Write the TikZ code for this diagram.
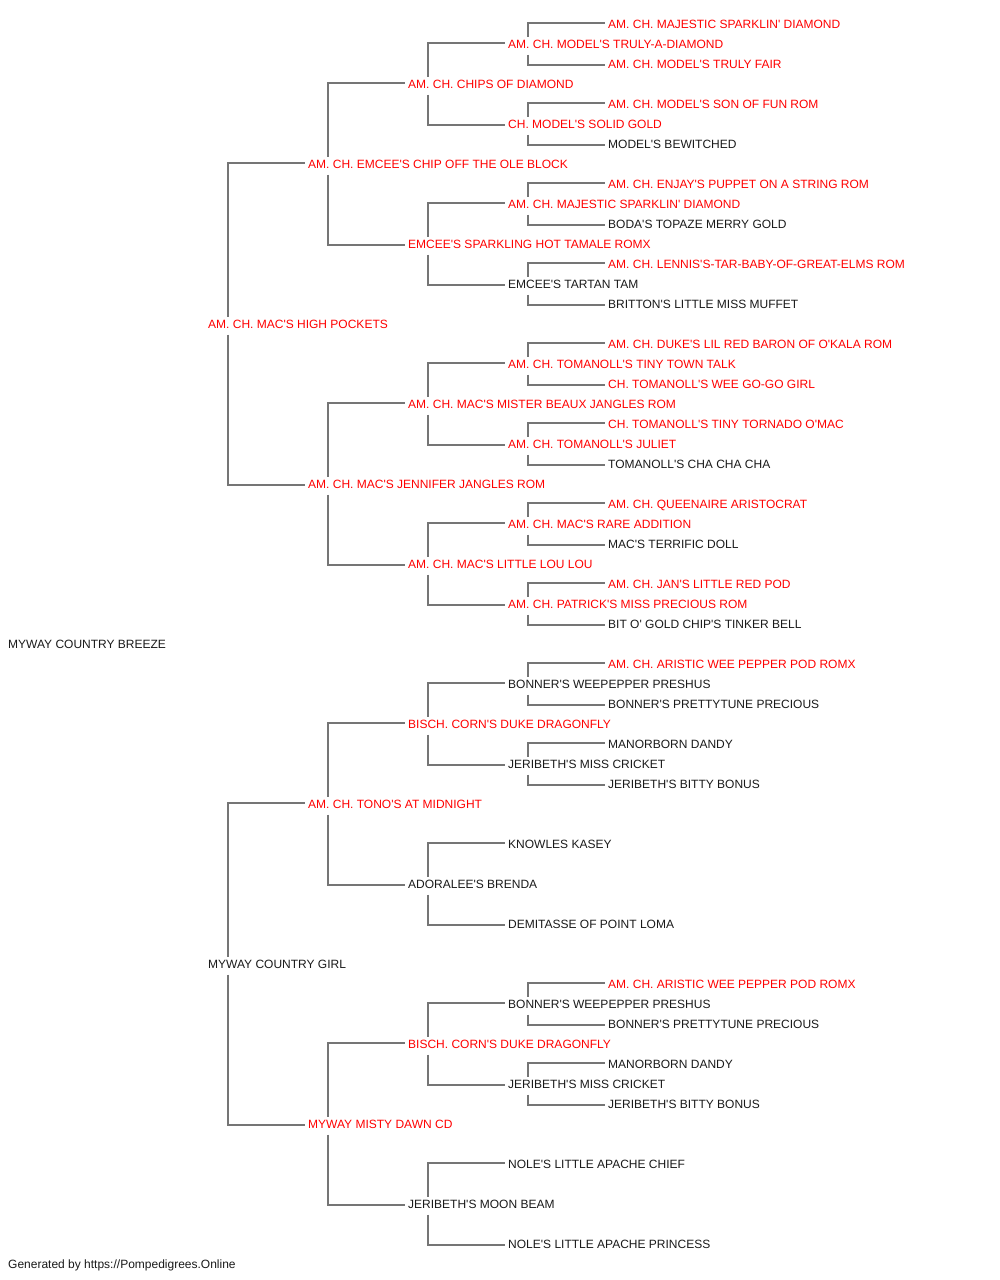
\documentclass[tikz,border=0pt]{standalone}
\usepackage{fontspec}
\setmainfont{Liberation Sans}[Ligatures=TeXOff]
\definecolor{lncol}{HTML}{757575}
\definecolor{chred}{HTML}{FF0000}
\definecolor{txtblk}{HTML}{1A1A1A}
\newcommand\pedlink[3]{%
  \draw[ln] ([xshift=20pt,yshift=7.5pt]#1.west) |- ([xshift=-3pt,yshift=1.5pt]#2.west);
  \draw[ln] ([xshift=20pt,yshift=-10.5pt]#1.west) |- ([xshift=-3pt,yshift=-0.5pt]#3.west);}
\begin{document}
\begin{tikzpicture}[x=1pt,y=-1pt,
  nm/.style={anchor=west,inner sep=0pt,text height=8.6pt,text depth=0pt,font=\fontsize{12}{14}\selectfont},
  ch/.style={nm,text=chred},
  pl/.style={nm,text=txtblk},
  ln/.style={draw=lncol,line width=2pt}]
\useasboundingbox[fill=white] (0,0) rectangle (1000,1280);
% generation 0
\node[pl] (r) at (8,644) {MYWAY COUNTRY BREEZE};
% generation 1
\node[ch] (s) at (208,324) {AM. CH. MAC'S HIGH POCKETS};
\node[pl] (d) at (208,964) {MYWAY COUNTRY GIRL};
% generation 2
\node[ch] (ss) at (308,164) {AM. CH. EMCEE'S CHIP OFF THE OLE BLOCK};
\node[ch] (sd) at (308,484) {AM. CH. MAC'S JENNIFER JANGLES ROM};
\node[ch] (ds) at (308,804) {AM. CH. TONO'S AT MIDNIGHT};
\node[ch] (dd) at (308,1124) {MYWAY MISTY DAWN CD};
% generation 3
\node[ch] (sss) at (408,84) {AM. CH. CHIPS OF DIAMOND};
\node[ch] (ssd) at (408,244) {EMCEE'S SPARKLING HOT TAMALE ROMX};
\node[ch] (sds) at (408,404) {AM. CH. MAC'S MISTER BEAUX JANGLES ROM};
\node[ch] (sdd) at (408,564) {AM. CH. MAC'S LITTLE LOU LOU};
\node[ch] (dss) at (408,724) {BISCH. CORN'S DUKE DRAGONFLY};
\node[pl] (dsd) at (408,884) {ADORALEE'S BRENDA};
\node[ch] (dds) at (408,1044) {BISCH. CORN'S DUKE DRAGONFLY};
\node[pl] (ddd) at (408,1204) {JERIBETH'S MOON BEAM};
% generation 4
\node[ch] (g4a) at (508,44) {AM. CH. MODEL'S TRULY-A-DIAMOND};
\node[ch] (g4b) at (508,124) {CH. MODEL'S SOLID GOLD};
\node[ch] (g4c) at (508,204) {AM. CH. MAJESTIC SPARKLIN' DIAMOND};
\node[pl] (g4d) at (508,284) {EMCEE'S TARTAN TAM};
\node[ch] (g4e) at (508,364) {AM. CH. TOMANOLL'S TINY TOWN TALK};
\node[ch] (g4f) at (508,444) {AM. CH. TOMANOLL'S JULIET};
\node[ch] (g4g) at (508,524) {AM. CH. MAC'S RARE ADDITION};
\node[ch] (g4h) at (508,604) {AM. CH. PATRICK'S MISS PRECIOUS ROM};
\node[pl] (g4i) at (508,684) {BONNER'S WEEPEPPER PRESHUS};
\node[pl] (g4j) at (508,764) {JERIBETH'S MISS CRICKET};
\node[pl] (g4k) at (508,844) {KNOWLES KASEY};
\node[pl] (g4l) at (508,924) {DEMITASSE OF POINT LOMA};
\node[pl] (g4m) at (508,1004) {BONNER'S WEEPEPPER PRESHUS};
\node[pl] (g4n) at (508,1084) {JERIBETH'S MISS CRICKET};
\node[pl] (g4o) at (508,1164) {NOLE'S LITTLE APACHE CHIEF};
\node[pl] (g4p) at (508,1244) {NOLE'S LITTLE APACHE PRINCESS};
% generation 5
\node[ch] (g5a) at (608,24) {AM. CH. MAJESTIC SPARKLIN' DIAMOND};
\node[ch] (g5b) at (608,64) {AM. CH. MODEL'S TRULY FAIR};
\node[ch] (g5c) at (608,104) {AM. CH. MODEL'S SON OF FUN ROM};
\node[pl] (g5d) at (608,144) {MODEL'S BEWITCHED};
\node[ch] (g5e) at (608,184) {AM. CH. ENJAY'S PUPPET ON A STRING ROM};
\node[pl] (g5f) at (608,224) {BODA'S TOPAZE MERRY GOLD};
\node[ch] (g5g) at (608,264) {AM. CH. LENNIS'S-TAR-BABY-OF-GREAT-ELMS ROM};
\node[pl] (g5h) at (608,304) {BRITTON'S LITTLE MISS MUFFET};
\node[ch] (g5i) at (608,344) {AM. CH. DUKE'S LIL RED BARON OF O'KALA ROM};
\node[ch] (g5j) at (608,384) {CH. TOMANOLL'S WEE GO-GO GIRL};
\node[ch] (g5k) at (608,424) {CH. TOMANOLL'S TINY TORNADO O'MAC};
\node[pl] (g5l) at (608,464) {TOMANOLL'S CHA CHA CHA};
\node[ch] (g5m) at (608,504) {AM. CH. QUEENAIRE ARISTOCRAT};
\node[pl] (g5n) at (608,544) {MAC'S TERRIFIC DOLL};
\node[ch] (g5o) at (608,584) {AM. CH. JAN'S LITTLE RED POD};
\node[pl] (g5p) at (608,624) {BIT O' GOLD CHIP'S TINKER BELL};
\node[ch] (g5q) at (608,664) {AM. CH. ARISTIC WEE PEPPER POD ROMX};
\node[pl] (g5r) at (608,704) {BONNER'S PRETTYTUNE PRECIOUS};
\node[pl] (g5s) at (608,744) {MANORBORN DANDY};
\node[pl] (g5t) at (608,784) {JERIBETH'S BITTY BONUS};
\node[ch] (g5u) at (608,984) {AM. CH. ARISTIC WEE PEPPER POD ROMX};
\node[pl] (g5v) at (608,1024) {BONNER'S PRETTYTUNE PRECIOUS};
\node[pl] (g5w) at (608,1064) {MANORBORN DANDY};
\node[pl] (g5x) at (608,1104) {JERIBETH'S BITTY BONUS};
% footer
\node[pl] (foot) at (8,1264) {Generated by https://Pompedigrees.Online};
% connectors
\pedlink{s}{ss}{sd}
\pedlink{d}{ds}{dd}
\pedlink{ss}{sss}{ssd}
\pedlink{sd}{sds}{sdd}
\pedlink{ds}{dss}{dsd}
\pedlink{dd}{dds}{ddd}
\pedlink{sss}{g4a}{g4b}
\pedlink{ssd}{g4c}{g4d}
\pedlink{sds}{g4e}{g4f}
\pedlink{sdd}{g4g}{g4h}
\pedlink{dss}{g4i}{g4j}
\pedlink{dsd}{g4k}{g4l}
\pedlink{dds}{g4m}{g4n}
\pedlink{ddd}{g4o}{g4p}
\pedlink{g4a}{g5a}{g5b}
\pedlink{g4b}{g5c}{g5d}
\pedlink{g4c}{g5e}{g5f}
\pedlink{g4d}{g5g}{g5h}
\pedlink{g4e}{g5i}{g5j}
\pedlink{g4f}{g5k}{g5l}
\pedlink{g4g}{g5m}{g5n}
\pedlink{g4h}{g5o}{g5p}
\pedlink{g4i}{g5q}{g5r}
\pedlink{g4j}{g5s}{g5t}
\pedlink{g4m}{g5u}{g5v}
\pedlink{g4n}{g5w}{g5x}
\end{tikzpicture}
\end{document}
